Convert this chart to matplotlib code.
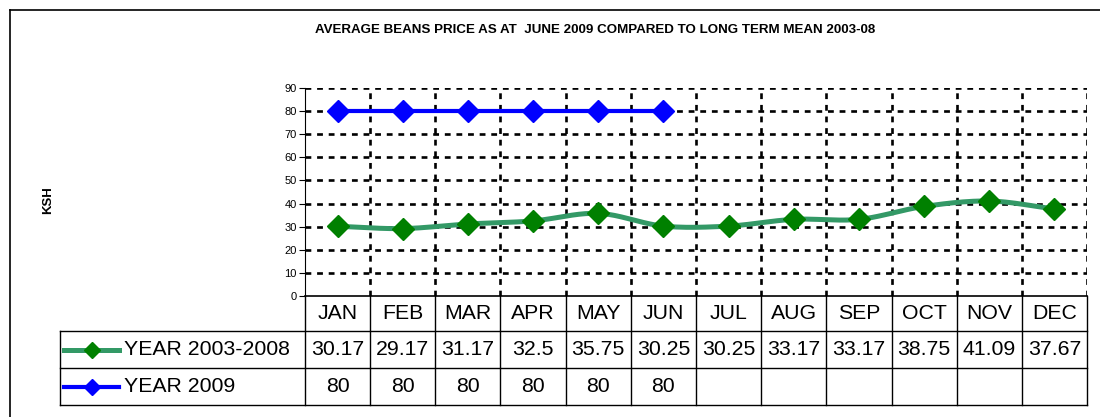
import numpy as np
import matplotlib
matplotlib.use("Agg")
import matplotlib.pyplot as plt
from matplotlib.transforms import blended_transform_factory
from matplotlib.lines import Line2D

months = ["JAN", "FEB", "MAR", "APR", "MAY", "JUN", "JUL", "AUG", "SEP", "OCT", "NOV", "DEC"]
mean_2003_08 = [30.17, 29.17, 31.17, 32.5, 35.75, 30.25, 30.25, 33.17, 33.17, 38.75, 41.09, 37.67]
year_2009 = [80, 80, 80, 80, 80, 80]
series_names = ["YEAR 2003-2008", "YEAR 2009"]
title = "AVERAGE BEANS PRICE AS AT  JUNE 2009 COMPARED TO LONG TERM MEAN 2003-08"
ylabel = "KSH"

plt.rcParams['font.family'] = ['Liberation Sans', 'DejaVu Sans']

W, H = 1100, 417
fig = plt.figure(figsize=(W / 100, H / 100), dpi=100)

def fx(px):
    return px / W

def fy(py):
    return 1 - py / H

ax_l, ax_r, ax_t, ax_b = 305, 1087, 88, 296
ax = fig.add_axes([fx(ax_l), fy(ax_b), fx(ax_r - ax_l), (ax_b - ax_t) / H])

green_line = "#339966"
green_mark = "#008000"
blue = "#0000FF"


def catmull(xs, ys, n=20):
    xs = np.asarray(xs, float)
    ys = np.asarray(ys, float)
    px = np.concatenate([[2 * xs[0] - xs[1]], xs, [2 * xs[-1] - xs[-2]]])
    py = np.concatenate([[2 * ys[0] - ys[1]], ys, [2 * ys[-1] - ys[-2]]])
    outx, outy = [], []
    for i in range(1, len(px) - 2):
        t = np.linspace(0, 1, n, endpoint=False)
        for arr, out in ((px, outx), (py, outy)):
            p0, p1, p2, p3 = arr[i - 1], arr[i], arr[i + 1], arr[i + 2]
            out.extend(0.5 * ((2 * p1) + (-p0 + p2) * t + (2 * p0 - 5 * p1 + 4 * p2 - p3) * t ** 2
                              + (-p0 + 3 * p1 - 3 * p2 + p3) * t ** 3))
    outx.append(xs[-1])
    outy.append(ys[-1])
    return np.array(outx), np.array(outy)

x1 = np.arange(len(mean_2003_08))
x2 = np.arange(len(year_2009))

# grid
dash = (0, (2.2, 2.2))
for yv in range(10, 91, 10):
    ax.axhline(yv, color="black", lw=1.9, ls=dash, zorder=1)
for k in range(1, len(months) + 1):
    ax.axvline(k - 0.5, color="black", lw=1.9, ls=dash, zorder=1)

sx, sy = catmull(x1, mean_2003_08)
ax.plot(sx, sy, color=green_line, lw=3.6, zorder=3, solid_capstyle="round")
ax.plot(x1, mean_2003_08, ls="none", marker="D", ms=11.5, color=green_mark, zorder=4)
ax.plot(x2, year_2009, color=blue, lw=3.0, marker="D", ms=11.5, zorder=5)

ax.set_xlim(-0.5, len(months) - 0.5)
ax.set_ylim(0, 90)
ax.set_yticks(range(0, 91, 10))
ax.set_xticks([])
for s in ["top", "right", "bottom"]:
    ax.spines[s].set_visible(False)
ax.spines["left"].set_linewidth(0.8)
ax.tick_params(axis="y", labelsize=8, length=4, width=0.8, pad=2)
ax.patch.set_alpha(0)

# data table
tr = blended_transform_factory(ax.transData, fig.transFigure)
rows_px = [296, 331, 368, 405]
label_left_px = 60
col_w = (ax_r - ax_l) / len(months)
xl = (label_left_px - ax_l) / col_w - 0.5
fsz = 15.3
lc = "black"
lw_t = 1.0
ax.plot([-0.5, 11.5], [fy(rows_px[0])] * 2, color=lc, lw=1.2, transform=tr, clip_on=False)
for r in rows_px[1:]:
    ax.plot([xl, 11.5], [fy(r)] * 2, color=lc, lw=lw_t, transform=tr, clip_on=False)
for k in range(len(months) + 1):
    ax.plot([k - 0.5] * 2, [fy(rows_px[0]), fy(rows_px[3])], color=lc, lw=lw_t, transform=tr, clip_on=False)
ax.plot([xl] * 2, [fy(rows_px[1]), fy(rows_px[3])], color=lc, lw=lw_t, transform=tr, clip_on=False)

def ymid(i):
    return fy((rows_px[i] + rows_px[i + 1]) / 2)

for i, m in enumerate(months):
    ax.text(i, ymid(0), m, transform=tr, ha="center", va="center", fontsize=fsz)
for i, v in enumerate(mean_2003_08):
    ax.text(i, ymid(1), f"{v:g}", transform=tr, ha="center", va="center", fontsize=fsz)
for i, v in enumerate(year_2009):
    ax.text(i, ymid(2), f"{v:g}", transform=tr, ha="center", va="center", fontsize=fsz)

for ri, (lcol, mcol, lwid) in zip([1, 2], [(green_line, green_mark, 3.6), (blue, blue, 3.0)]):
    yk = ymid(ri)
    fig.add_artist(Line2D([fx(64), fx(119)], [yk, yk], color=lcol, lw=lwid, transform=fig.transFigure))
    fig.add_artist(Line2D([fx(91.5)], [yk], marker="D", ms=8, color=mcol, ls="none", transform=fig.transFigure))
    fig.text(fx(124), yk, series_names[ri - 1], ha="left", va="center", fontsize=fsz)

# title and y label
fig.text(fx(595), fy(30), title, ha="center", va="center", fontsize=9.6, fontweight="bold")
fig.text(fx(48), fy(200), ylabel, ha="center", va="center", fontsize=9.5, fontweight="bold", rotation=90)

# outer border (top and left)
fig.add_artist(Line2D([fx(10), 1.0], [fy(10), fy(10)], color="black", lw=1.2, transform=fig.transFigure))
fig.add_artist(Line2D([fx(10), fx(10)], [fy(10), 0], color="black", lw=1.2, transform=fig.transFigure))

fig.savefig("out.png", dpi=100)
